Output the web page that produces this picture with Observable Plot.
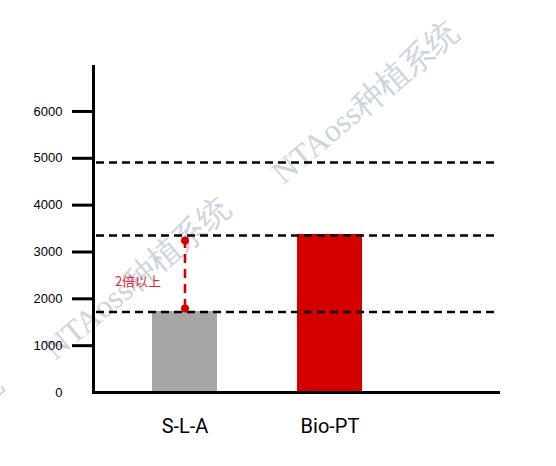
<!DOCTYPE html>
<html><head><meta charset="utf-8">
<script src="https://cdn.jsdelivr.net/npm/d3@7"></script>
<script src="https://cdn.jsdelivr.net/npm/@observablehq/plot@0.6"></script>
<style>body{margin:0;background:#fff}#chart svg{display:block}</style>
</head><body><div id="chart"></div>
<script>
const categories = ["S-L-A", "Bio-PT"];
const values = [1730, 3374];
const barColors = ["#a6a6a6", "#d40000"];
const yTicks = [0, 1000, 2000, 3000, 4000, 5000, 6000];
const refLines = [1720, 3352, 4911];
const arrowCat = "S-L-A";
const arrowFrom = 1794;
const arrowTo = 3246;
const annotation = "2倍以上";
const annotationY = 2370;
const watermark = "NTAoss种植系统";

const bars = categories.map((c, i) => ({cat: c, value: values[i], color: barColors[i]}));
const wm = [{dx: 272, dy: 36}, {dx: 44, dy: 212}, {dx: -184, dy: 388}];

const chart = Plot.plot({
  width: 556, height: 466,
  marginLeft: 93, marginRight: 56, marginTop: 66, marginBottom: 74,
  x: {type: "band", domain: categories, paddingInner: 0.55, paddingOuter: 0.674, align: 0.30},
  y: {domain: [0, 6960]},
  marks: [
    ...wm.map(w => Plot.text([watermark], {frameAnchor: "top-left", dx: w.dx, dy: w.dy, text: d => d,
      textAnchor: "middle", lineAnchor: "middle",
      rotate: -40, fontSize: 32, fill: "#ccd4de", fontFamily: "Liberation Serif, serif"})),
    Plot.barY(bars, {x: "cat", y: "value", fill: "color"}),
    Plot.ruleY(refLines, {stroke: "#000", strokeWidth: 2.6, strokeDasharray: "8,5", insetLeft: 3, insetRight: 2}),
    Plot.ruleX([arrowCat], {x: d => d, y1: arrowFrom, y2: arrowTo, stroke: "#d40000", strokeWidth: 2.6, strokeDasharray: "9,6"}),
    Plot.dot([arrowFrom, arrowTo], {x: () => arrowCat, y: d => d, r: 4, fill: "#d40000"}),
    Plot.text([annotation], {x: () => arrowCat, y: () => annotationY, text: d => d, dx: -47, fill: "#e3262e", fontSize: 13, fontFamily: "Noto Sans CJK SC"}),
    Plot.axisY({ticks: yTicks.filter(t => t > 0), text: null, tickSize: 21, strokeWidth: 3, stroke: "#000", label: null}),
    Plot.axisY({ticks: yTicks, tickFormat: "d", tickSize: 0, tickPadding: 31, fontSize: 13, fontFamily: "Liberation Sans, Arial", fill: "#000", label: null}),
    Plot.axisX({tickSize: 0, tickPadding: 26, fontSize: 20, fontFamily: "Roboto", fill: "#000", label: null}),
    Plot.frame({anchor: "left", stroke: "#000", strokeWidth: 3}),
    Plot.ruleY([0], {stroke: "#000", strokeWidth: 3})
  ]
});
document.getElementById("chart").appendChild(chart);
</script></body></html>
